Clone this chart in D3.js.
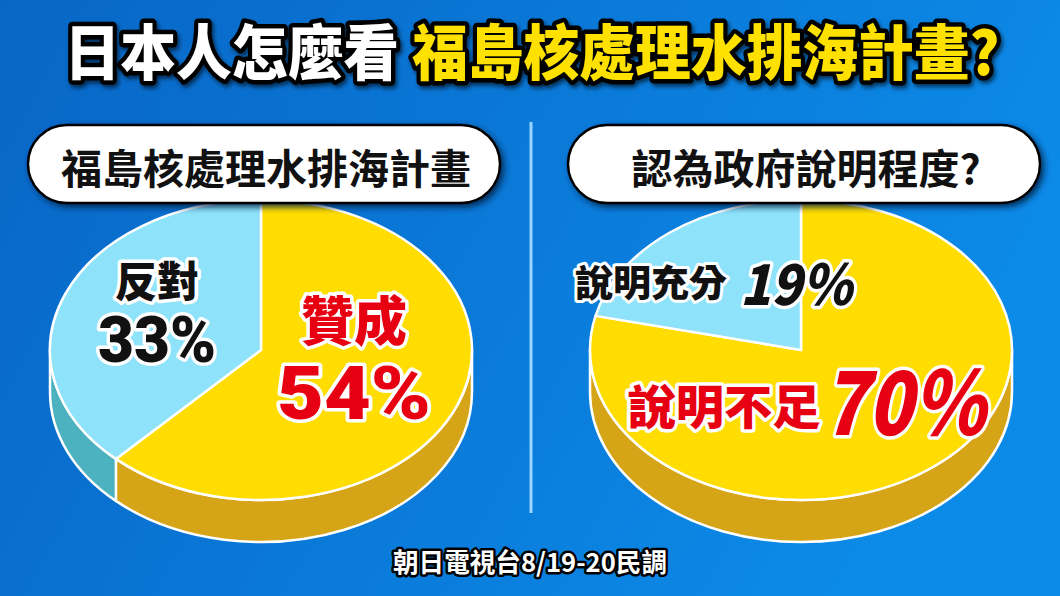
<!DOCTYPE html>
<html>
<head>
<meta charset="utf-8">
<script src="https://cdn.jsdelivr.net/npm/d3@7"></script>
<style>
  html, body { margin: 0; padding: 0; }
  body { width: 1060px; height: 596px; overflow: hidden; }
  svg { display: block; }
  text { font-family: "Noto Sans CJK TC", "Noto Sans CJK SC", sans-serif; }
</style>
</head>
<body>
<svg id="chart" width="1060" height="596"></svg>
<script>
// ---- data ----
const titleWhite = "日本人怎麼看";
const titleYellow = "福島核處理水排海計畫?";
const panelTitles = ["福島核處理水排海計畫", "認為政府說明程度?"];
const leftCategories = ["贊成", "反對"];
const leftValues = [54, 33];
const rightCategories = ["說明不足", "說明充分"];
const rightValues = [70, 19];
const sourceNote = "朝日電視台8/19-20民調";

// ---- layout ----
const W = 1060, H = 596;
const svg = d3.select("#chart");
const defs = svg.append("defs");

const bg = defs.append("linearGradient").attr("id", "bg").attr("x1", 0).attr("y1", 0).attr("x2", 1).attr("y2", 0.3);
bg.append("stop").attr("offset", 0).attr("stop-color", "#0866c6");
bg.append("stop").attr("offset", 1).attr("stop-color", "#0c8ae8");
svg.append("rect").attr("width", W).attr("height", H).attr("fill", "url(#bg)");

const shadow = defs.append("filter").attr("id", "shadow").attr("x", -0.1).attr("y", -0.3).attr("width", 1.2).attr("height", 1.6);
shadow.append("feDropShadow").attr("dx", 3).attr("dy", 3).attr("stdDeviation", 3).attr("flood-color", "#001a40").attr("flood-opacity", 0.85);
const tshadow = defs.append("filter").attr("id", "tshadow").attr("x", -0.05).attr("y", -0.3).attr("width", 1.1).attr("height", 1.6);
tshadow.append("feDropShadow").attr("dx", 2).attr("dy", 3).attr("stdDeviation", 2).attr("flood-color", "#000").attr("flood-opacity", 0.6);

// title
const title = svg.append("text")
  .attr("x", 532).attr("y", 48)
  .attr("text-anchor", "middle").attr("dominant-baseline", "central")
  .attr("font-size", 60).attr("font-weight", 900)
  .attr("textLength", 935).attr("lengthAdjust", "spacingAndGlyphs")
  .attr("stroke", "#000").attr("stroke-width", 9).attr("stroke-linejoin", "round")
  .attr("paint-order", "stroke").attr("filter", "url(#tshadow)");
title.append("tspan").attr("fill", "#ffffff").text(titleWhite + " ");
title.append("tspan").attr("fill", "#ffe100").text(titleYellow);

// divider
svg.append("line").attr("x1", 531).attr("x2", 531).attr("y1", 122).attr("y2", 513)
  .attr("stroke", "#9ad6ff").attr("stroke-width", 3);

// ---- pies ----
const topColors = ["#ffdd00", "#8ee3fb"];
const sideColors = ["#d6a517", "#4db2bf"];
const rx = 211, ry = 150, depth = 42;
const pieGen = d3.pie().sort(null).value(d => d);

function drawPie(cx, cy, values) {
  const arcs = pieGen(values);
  const g = svg.append("g");
  const pt = (a, dy = 0) => [cx + rx * Math.sin(a), cy - ry * Math.cos(a) + dy];
  // side walls (front half only)
  arcs.forEach((d, i) => {
    const s = Math.max(d.startAngle, Math.PI / 2), e = Math.min(d.endAngle, 3 * Math.PI / 2);
    if (s >= e) return;
    const p0 = pt(s), p1 = pt(e), p2 = pt(e, depth), p3 = pt(s, depth);
    const path = `M${p0}A${rx},${ry} 0 0 1 ${p1}L${p2}A${rx},${ry} 0 0 0 ${p3}Z`;
    g.append("path").attr("d", path).attr("fill", sideColors[i])
      .attr("stroke", "#fff").attr("stroke-width", 2.5).attr("stroke-linejoin", "round");
  });
  // top faces
  arcs.forEach((d, i) => {
    const p0 = pt(d.startAngle), p1 = pt(d.endAngle);
    const large = (d.endAngle - d.startAngle) > Math.PI ? 1 : 0;
    const path = `M${cx},${cy}L${p0}A${rx},${ry} 0 ${large} 1 ${p1}Z`;
    g.append("path").attr("d", path).attr("fill", topColors[i])
      .attr("stroke", "#fff").attr("stroke-width", 2.5).attr("stroke-linejoin", "round");
  });
}
drawPie(261, 350, leftValues);
drawPie(801, 350, rightValues);

// panel title boxes
const boxes = [{x: 28, w: 472, t: panelTitles[0]}, {x: 568, w: 472, t: panelTitles[1]}];
boxes.forEach(b => {
  svg.append("rect").attr("x", b.x).attr("y", 125).attr("width", b.w).attr("height", 78)
    .attr("rx", 39).attr("ry", 39).attr("fill", "#fff").attr("stroke", "#000").attr("stroke-width", 2.5)
    .attr("filter", "url(#shadow)");
  svg.append("text").attr("x", b.x + b.w / 2 + 2).attr("y", 166)
    .attr("text-anchor", "middle").attr("dominant-baseline", "central")
    .attr("font-size", 41).attr("font-weight", 700).attr("fill", "#111").text(b.t);
});

const numFont = "Roboto, 'Liberation Sans', sans-serif";

// stacked two-line labels (category over percentage) as one text element
function stacked(x, y1, y2, cat, val, s1, s2, fill, len2) {
  const t = svg.append("text").attr("text-anchor", "middle").attr("dominant-baseline", "central")
    .attr("font-weight", 900).attr("fill", fill)
    .attr("stroke", "#fff").attr("stroke-width", 7).attr("stroke-linejoin", "round").attr("paint-order", "stroke");
  t.append("tspan").attr("x", x).attr("y", y1).attr("font-size", s1).text(cat);
  t.append("tspan").attr("x", x).attr("y", y2).attr("font-size", s2).attr("font-family", numFont)
    .attr("textLength", len2).attr("lengthAdjust", "spacingAndGlyphs").text(val + "%");
}
stacked(157, 278, 340, leftCategories[1], leftValues[1], 42, 64, "#111", 118);
stacked(354, 318, 393, leftCategories[0], leftValues[0], 53, 74, "#e60012", 154);

function label(x, y, txt, size, fill, opts = {}) {
  svg.append("text").attr("x", x).attr("y", y)
    .attr("text-anchor", "middle").attr("dominant-baseline", "central")
    .attr("font-size", size).attr("font-weight", 900)
    .attr("font-family", opts.family || null)
    .attr("font-style", opts.italic ? "italic" : null)
    .attr("fill", fill).attr("stroke", "#fff").attr("stroke-width", opts.sw || 7)
    .attr("stroke-linejoin", "round").attr("paint-order", "stroke")
    .attr("textLength", opts.len || null).attr("lengthAdjust", opts.len ? "spacingAndGlyphs" : null)
    .text(txt);
}
label(651, 281, rightCategories[1], 37, "#111", {len: 152, sw: 6});
label(796, 280, rightValues[1] + "%", 56, "#111", {family: numFont, italic: true, len: 112});
label(724, 403, rightCategories[0], 47, "#e60012", {len: 193});
label(904, 396, rightValues[0] + "%", 88, "#e60012", {family: numFont, italic: true, len: 163});

// source
svg.append("text").attr("x", 530).attr("y", 560)
  .attr("text-anchor", "middle").attr("dominant-baseline", "central")
  .attr("font-size", 26).attr("font-weight", 700).attr("fill", "#fff")
  .attr("stroke", "#000").attr("stroke-width", 5).attr("stroke-linejoin", "round").attr("paint-order", "stroke")
  .attr("textLength", 274).attr("lengthAdjust", "spacingAndGlyphs")
  .text(sourceNote);
</script>
</body>
</html>
